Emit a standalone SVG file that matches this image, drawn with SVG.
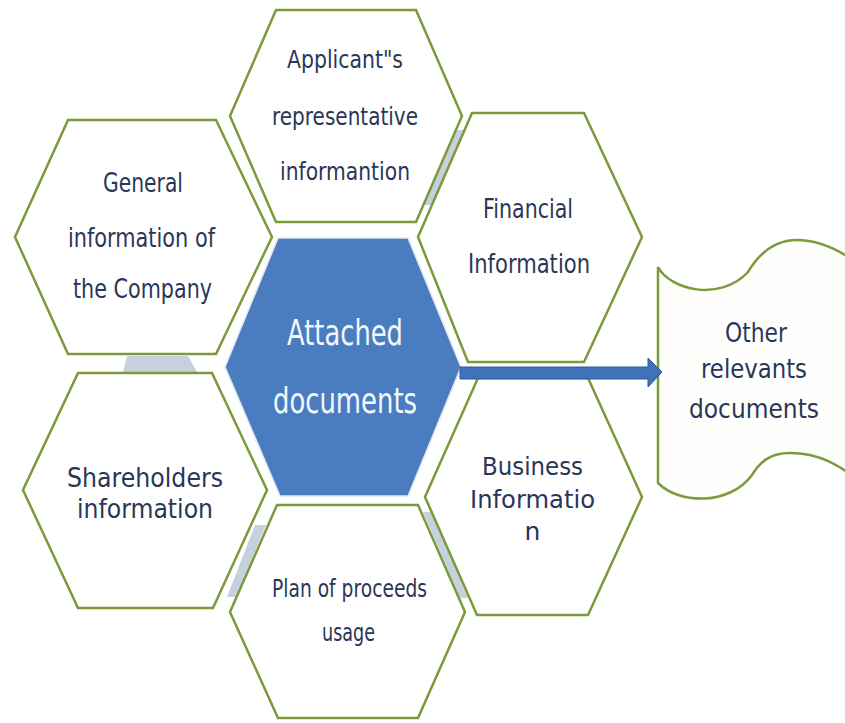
<svg xmlns="http://www.w3.org/2000/svg" width="845" height="723" viewBox="0 0 845 723">
<style>
.hex{fill:#ffffff;stroke:#7b9a3c;stroke-width:2.5;stroke-linejoin:miter}
.center{fill:#4a7dbf;stroke:#dfe7f3;stroke-width:1.5}
.band{fill:#c7d0de}
.t{font-family:"DejaVu Sans","Liberation Sans",sans-serif;fill:#2a3657;text-anchor:middle}
.w{font-family:"DejaVu Sans","Liberation Sans",sans-serif;fill:#f4f7fc;text-anchor:middle}
.doc{fill:#fefffd;stroke:#7b9a3c;stroke-width:2.5}
.arrow{fill:#3f72b8;stroke:#2d5c9c;stroke-width:1}
</style>
<rect width="845" height="723" fill="#ffffff"/>
<g id="bands">
<polygon class="band" points="457,130 464,130 432,205 424,205"/>
<polygon class="band" points="127,356 188,356 197,372 123,372"/>
<polygon class="band" points="255,525 266,525 236,597 227,597"/>
<polygon class="band" points="423,512 431,512 468,598 460,598"/>
</g>
<g id="applicant">
<polygon class="hex" points="276,10 416,10 462,116 416,222 276,222 230,116"/>
<text class="t" x="345" y="68" font-size="25" textLength="116" lengthAdjust="spacingAndGlyphs">Applicant"s</text>
<text class="t" x="345" y="125" font-size="25" textLength="146" lengthAdjust="spacingAndGlyphs">representative</text>
<text class="t" x="345" y="180" font-size="25" textLength="130" lengthAdjust="spacingAndGlyphs">informantion</text>
</g>
<g id="general">
<polygon class="hex" points="68,120 216,120 272,237 216,354 68,354 15,237"/>
<text class="t" x="143" y="192" font-size="26" textLength="80" lengthAdjust="spacingAndGlyphs">General</text>
<text class="t" x="141.5" y="247" font-size="26" textLength="147" lengthAdjust="spacingAndGlyphs">information of</text>
<text class="t" x="142.5" y="298" font-size="26" textLength="139" lengthAdjust="spacingAndGlyphs">the Company</text>
</g>
<g id="financial">
<polygon class="hex" points="472,113 584,113 642,237 584,362 468,362 418,237"/>
<text class="t" x="528" y="218" font-size="26" textLength="90" lengthAdjust="spacingAndGlyphs">Financial</text>
<text class="t" x="529" y="273" font-size="26" textLength="122" lengthAdjust="spacingAndGlyphs">Information</text>
</g>
<g id="shareholders">
<polygon class="hex" points="78,373 212,373 267,490 213,608 78,608 23,490"/>
<text class="t" x="145" y="487" font-size="26" textLength="156" lengthAdjust="spacingAndGlyphs">Shareholders</text>
<text class="t" x="145" y="518" font-size="26" textLength="136" lengthAdjust="spacingAndGlyphs">information</text>
</g>
<g id="business">
<polygon class="hex" points="478,378 588,378 642,497 588,615 477,615 425,497"/>
<text class="t" x="532.5" y="475" font-size="25" textLength="101" lengthAdjust="spacingAndGlyphs">Business</text>
<text class="t" x="532.5" y="508" font-size="25" textLength="125" lengthAdjust="spacingAndGlyphs">Informatio</text>
<text class="t" x="532.5" y="540" font-size="25">n</text>
</g>
<g id="plan">
<polygon class="hex" points="277,505 418,505 465,612 418,718 278,718 230,612"/>
<text class="t" x="349.5" y="597" font-size="25" textLength="155" lengthAdjust="spacingAndGlyphs">Plan of proceeds</text>
<text class="t" x="348.5" y="641" font-size="25" textLength="53" lengthAdjust="spacingAndGlyphs">usage</text>
</g>
<g id="attached">
<polygon class="center" points="278,238 408,238 461,367 408,496 280,496 225,367"/>
<text class="w" x="345" y="345" font-size="36" textLength="116" lengthAdjust="spacingAndGlyphs">Attached</text>
<text class="w" x="345" y="413" font-size="36" textLength="144" lengthAdjust="spacingAndGlyphs">documents</text>
</g>
<g id="other">
<path class="doc" d="M658,267 C670,290 720,302 748,272 C760,252 775,240 797,240 C820,240 840,250 860,265 L860,481 C840,466 820,453 790,453 C770,453 760,462 752,475 C730,505 680,505 658,483 Z"/>
<text class="t" x="756" y="342" font-size="27" textLength="62" lengthAdjust="spacingAndGlyphs">Other</text>
<text class="t" x="754" y="378" font-size="27" textLength="106" lengthAdjust="spacingAndGlyphs">relevants</text>
<text class="t" x="754" y="418" font-size="27" textLength="130" lengthAdjust="spacingAndGlyphs">documents</text>
</g>
<g id="connectors">
<polygon class="arrow" points="460,367 648,367 648,358 662,372 648,387 648,379 460,379"/>
</g>
</svg>
